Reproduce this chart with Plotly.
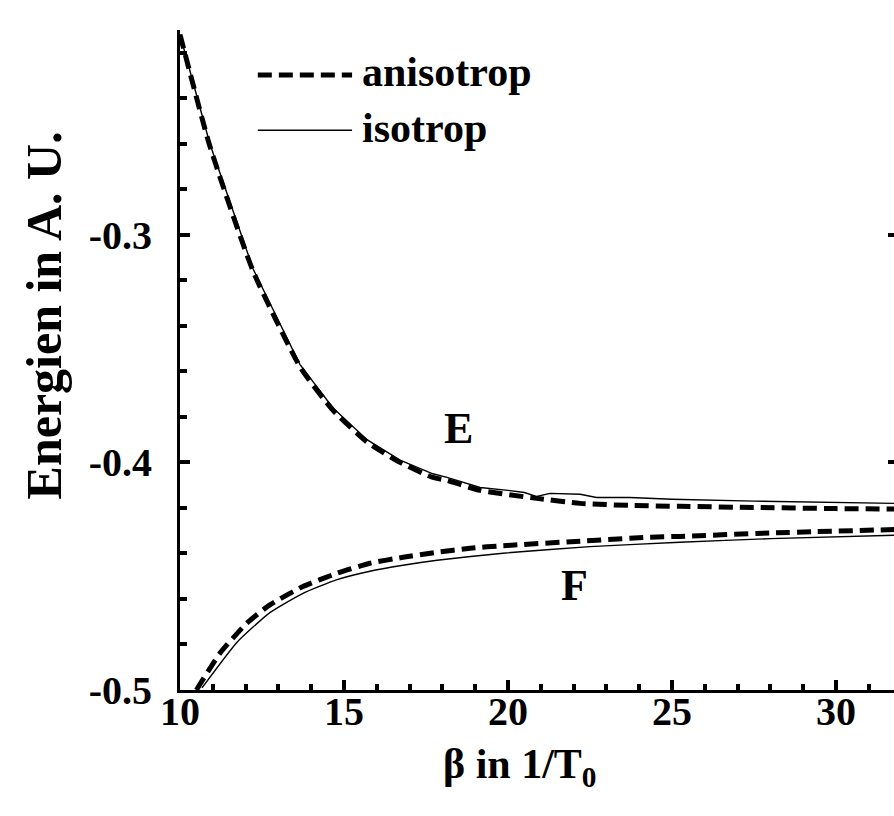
import plotly.graph_objects as go

# beta values (1/T0) and energies (A. U.) for the two branches E and F
e_aniso_beta = [10.0, 10.91, 12.23, 13.66, 14.66, 15.70, 16.71, 17.71, 18.14, 19.15,
                20.88, 22.2, 23.72, 25.24, 27.5, 30.0, 31.8]
e_aniso_energy = [-0.212, -0.261, -0.316, -0.358, -0.377, -0.391, -0.400, -0.4066, -0.4079,
                  -0.4123, -0.4158, -0.418, -0.4189, -0.4193, -0.4198, -0.4203, -0.4205]

e_iso_beta = [10.0, 10.91, 12.23, 13.66, 14.66, 15.70, 16.71, 17.71, 18.14, 19.15, 20.0,
              20.5, 20.88, 21.28, 22.2, 22.7, 23.72, 25.0, 27.5, 30.0, 31.8]
e_iso_energy = [-0.212, -0.260, -0.315, -0.357, -0.376, -0.390, -0.399, -0.405, -0.4066,
                -0.4110, -0.4123, -0.4132, -0.415, -0.4136, -0.4140, -0.4154, -0.4154,
                -0.4162, -0.4170, -0.4175, -0.418]

f_aniso_beta = [10.5, 11.22, 12.04, 12.74, 13.75, 14.79, 15.79, 16.80, 17.84, 18.84,
                19.85, 22.2, 24.24, 25.24, 28.0, 31.8]
f_aniso_energy = [-0.5, -0.4838, -0.4706, -0.4626, -0.4545, -0.4487, -0.4443, -0.4417,
                  -0.4395, -0.4377, -0.4366, -0.4346, -0.4329, -0.4325, -0.4310, -0.4295]

f_iso_beta = [10.67, 11.74, 12.74, 13.75, 14.79, 15.79, 16.80, 17.84, 19.85, 22.5,
              25.24, 28.0, 31.8]
f_iso_energy = [-0.4991, -0.4790, -0.4660, -0.4575, -0.4515, -0.4478, -0.4452, -0.4430,
                -0.4399, -0.4370, -0.4351, -0.4335, -0.4320]

x_ticks = [10, 15, 20, 25, 30]
y_ticks = [-0.5, -0.4, -0.3]
legend_labels = ["anisotrop", "isotrop"]
branch_labels = [("E", 18.48, -0.385), ("F", 22.04, -0.454)]

FONT = "Liberation Serif, Times New Roman, serif"
DASH = dict(color="black", width=5, dash="14px,7px")
THIN = dict(color="black", width=1.4)

fig = go.Figure()
fig.add_trace(go.Scatter(x=e_aniso_beta, y=e_aniso_energy, mode="lines",
                         line=dict(shape="spline", smoothing=0.5, **DASH)))
fig.add_trace(go.Scatter(x=e_iso_beta, y=e_iso_energy, mode="lines", line=THIN))
fig.add_trace(go.Scatter(x=f_aniso_beta, y=f_aniso_energy, mode="lines",
                         line=dict(shape="spline", smoothing=0.5, **DASH)))
# isotropic F branch is plotted against the right-hand (mirrored) energy axis
fig.add_trace(go.Scatter(x=f_iso_beta, y=f_iso_energy, mode="lines", yaxis="y2",
                         line=dict(shape="spline", smoothing=0.5, **THIN)))

# legend: long line samples followed by bold labels
for (lbl, yy, style) in [(legend_labels[0], 0.932, DASH), (legend_labels[1], 0.848, THIN)]:
    fig.add_shape(type="line", xref="paper", yref="paper", x0=0.109, x1=0.241, y0=yy, y1=yy,
                  line=style)
    fig.add_annotation(text=lbl, xref="paper", yref="paper", x=0.252, y=yy + 0.004,
                       xanchor="left", yanchor="middle", showarrow=False,
                       font=dict(family=FONT, size=42, color="black", weight="bold"))

for (lbl, bx, ey) in branch_labels:
    fig.add_annotation(text=lbl, x=bx, y=ey, showarrow=False,
                       font=dict(family=FONT, size=44, color="black", weight="bold"))

fig.add_annotation(text="Energien in A. U.", xref="paper", yref="paper",
                   x=-0.19, y=0.568, textangle=-90, showarrow=False,
                   xanchor="center", yanchor="middle",
                   font=dict(family=FONT, size=50, color="black", weight="bold"))

fig.add_annotation(text="β in 1/T<sub>0</sub>", xref="paper", yref="paper",
                   x=0.476, y=-0.074, showarrow=False,
                   xanchor="center", yanchor="top",
                   font=dict(family=FONT, size=42, color="black", weight="bold"))

tickfont = dict(family=FONT, size=40, color="black", weight="bold")
fig.update_layout(
    width=894, height=816,
    margin=dict(l=180, r=0, t=30, b=126),
    paper_bgcolor="white", plot_bgcolor="white",
    showlegend=False,
    xaxis=dict(range=[10, 31.77], tickvals=x_ticks, ticks="inside", ticklen=10,
               tickwidth=4, tickcolor="black", showline=True, linewidth=3,
               linecolor="black", showgrid=False, zeroline=False, tickfont=tickfont,
               ticklabelstandoff=-16,
               minor=dict(dtick=1, ticks="inside", ticklen=6, tickwidth=4,
                          tickcolor="black", showgrid=False)),
    yaxis=dict(range=[-0.5, -0.21], tickvals=y_ticks, ticktext=["-0.5", "-0.4", "-0.3"],
               ticks="inside", ticklen=10, tickwidth=4, tickcolor="black",
               showline=True, linewidth=3, linecolor="black", showgrid=False,
               zeroline=False, tickfont=tickfont, ticklabelstandoff=17,
               minor=dict(dtick=0.02, ticks="inside", ticklen=7, tickwidth=4,
                          tickcolor="black", showgrid=False)),
    yaxis2=dict(range=[-0.5, -0.21], overlaying="y", side="right", tickvals=y_ticks,
                ticks="inside", ticklen=6, tickwidth=4, tickcolor="black",
                showticklabels=False, showline=False, showgrid=False, zeroline=False),
)

fig.write_html("out.html")
